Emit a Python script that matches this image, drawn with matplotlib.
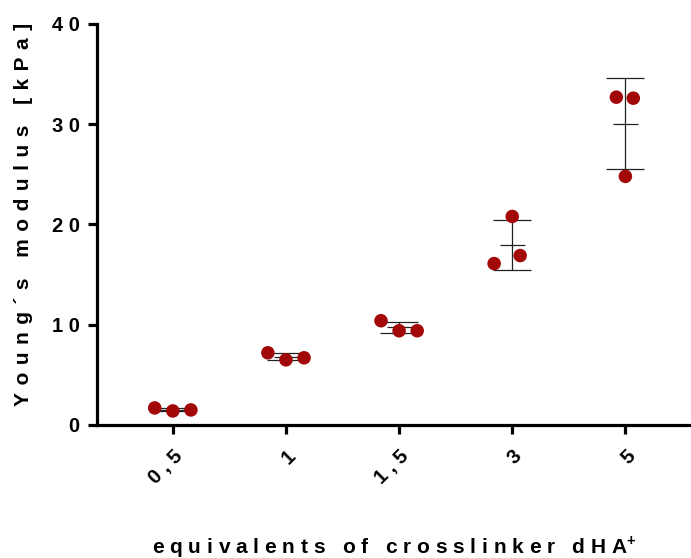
import matplotlib.pyplot as plt
import numpy as np

plt.rcParams['font.family'] = ['Liberation Sans', 'DejaVu Sans']
plt.rcParams['font.weight'] = 'bold'
plt.rcParams['mathtext.fontset'] = 'custom'
plt.rcParams['mathtext.bf'] = 'Liberation Sans:bold'

categories = ["0,5", "1", "1,5", "3", "5"]
# three replicate measurements per crosslinker amount (kPa)
replicates = [
    [1.7, 1.4, 1.5],
    [7.2, 6.5, 6.7],
    [10.4, 9.4, 9.4],
    [16.1, 20.8, 16.9],
    [32.7, 24.8, 32.6],
]
# horizontal scatter of the dots within each group
jitter = [
    [-0.16, 0.0, 0.16],
    [-0.16, 0.0, 0.16],
    [-0.16, 0.0, 0.16],
    [-0.16, 0.0, 0.07],
    [-0.08, 0.0, 0.07],
]


def spaced(s, sep="\u2008"):
    # wide letter spacing
    return sep.join(s)


dot_color = "#a30808"

fig = plt.figure(figsize=(6.91, 5.58), dpi=100)
ax = fig.add_axes([0.1404, 0.2384, 0.8596, 0.7186])

pos = np.arange(len(categories))
means = np.array([np.mean(r) for r in replicates])
sds = np.array([np.std(r, ddof=1) for r in replicates])

for i, (vals, dx) in enumerate(zip(replicates, jitter)):
    ax.scatter(pos[i] + np.array(dx), vals, s=95, color=dot_color,
               edgecolors="none", zorder=3)

ax.errorbar(pos, means, yerr=sds, fmt="none", ecolor="#222222",
            elinewidth=0.9, capsize=13.5, capthick=0.9, zorder=2)
ax.hlines(means, pos - 0.11, pos + 0.11, color="#222222", lw=0.9, zorder=2)

ax.set_xlim(-0.67, 4.58)
ax.set_ylim(0, 40)
ax.set_yticks([0, 10, 20, 30, 40])
ax.set_yticklabels([spaced(str(t), "\u2009\u200a") for t in [0, 10, 20, 30, 40]])
ax.set_xticks(pos)
ax.set_xticklabels([spaced(c, "\u2009\u200a") for c in categories], rotation=45,
                   ha="right", rotation_mode="anchor")

for side in ["top", "right"]:
    ax.spines[side].set_visible(False)
for side in ["left", "bottom"]:
    ax.spines[side].set_linewidth(2.3)
ax.tick_params(axis="both", width=2.3, length=6.5, labelsize=14.5, pad=6)
ax.tick_params(axis="x", pad=9)

ax.set_ylabel(spaced("Young´s modulus [kPa]", "\u2008\u200a"), fontsize=15,
              fontweight="bold")
ax.yaxis.set_label_coords(-0.108, 0.526)
ax.set_xlabel(spaced("equivalents of crosslinker dHA") + r"$^{\mathbf{+}}$",
              fontsize=15, fontweight="bold", labelpad=33)

plt.savefig("out.png", dpi=100)
